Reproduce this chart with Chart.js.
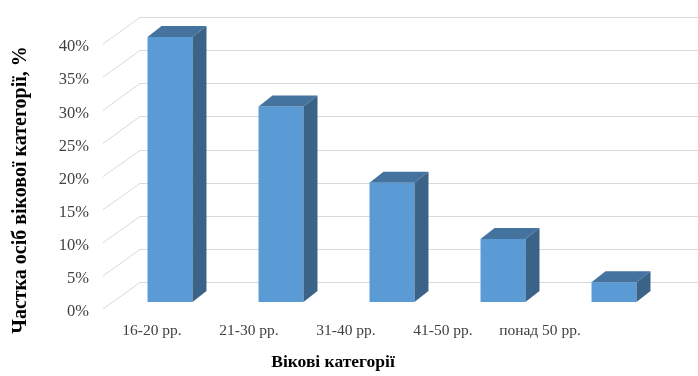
<!DOCTYPE html>
<html lang="uk">
<head>
    <meta charset="UTF-8">
    <title>Вікові категорії</title>
    <script src="https://cdn.jsdelivr.net/npm/chart.js"></script>
    <style>
        body { margin: 0; background: #fff; }
        canvas { display: block; }
    </style>
</head>
<body>
    <canvas id="ageChart" width="698" height="376"></canvas>

    <script>
        // Chart data
        const categories = ['16-20 рр.', '21-30 рр.', '31-40 рр.', '41-50 рр.', 'понад 50 рр.'];
        const shares = [40, 29.5, 18, 9.5, 3];
        const yTicks = [0, 5, 10, 15, 20, 25, 30, 35, 40];
        const xTitle = 'Вікові категорії';
        const yTitle = 'Частка осіб вікової категорії, %';

        const serif = "'Liberation Serif', 'Times New Roman', serif";

        // Fake 3D: back wall grid, floor diagonals, bar top and side faces
        const depth3d = {
            id: 'depth3d',
            beforeDatasetsDraw(chart, args, opts) {
                const {ctx, chartArea, scales: {y}} = chart;
                ctx.save();
                ctx.strokeStyle = opts.gridColor;
                ctx.lineWidth = 1;
                y.ticks.forEach(t => {
                    const py = y.getPixelForValue(t.value);
                    const by = Math.round(py + opts.back.y) + 0.5;
                    ctx.beginPath();
                    ctx.moveTo(chart.width, by);
                    ctx.lineTo(chartArea.left + opts.back.x, by);
                    ctx.lineTo(chartArea.left + opts.front.x, py + opts.front.y);
                    ctx.stroke();
                });
                ctx.restore();
            },
            afterDatasetsDraw(chart, args, opts) {
                const {ctx} = chart;
                const dx = opts.bar.x, dy = opts.bar.y;
                ctx.save();
                chart.getDatasetMeta(0).data.forEach(bar => {
                    const l = bar.x - bar.width / 2, r = bar.x + bar.width / 2;
                    const top = bar.y, base = bar.base;
                    // top face
                    ctx.fillStyle = opts.topColor;
                    ctx.beginPath();
                    ctx.moveTo(l, top);
                    ctx.lineTo(l + dx, top + dy);
                    ctx.lineTo(r + dx, top + dy);
                    ctx.lineTo(r, top);
                    ctx.closePath();
                    ctx.fill();
                    // side face
                    ctx.fillStyle = opts.sideColor;
                    ctx.beginPath();
                    ctx.moveTo(r, top);
                    ctx.lineTo(r + dx, top + dy);
                    ctx.lineTo(r + dx, base + dy);
                    ctx.lineTo(r, base);
                    ctx.closePath();
                    ctx.fill();
                });
                ctx.restore();
            },
            afterDraw(chart, args, opts) {
                const {ctx} = chart;
                ctx.save();
                ctx.fillStyle = opts.titleColor;
                ctx.textAlign = 'center';
                ctx.textBaseline = 'middle';
                ctx.font = opts.xTitleFont;
                ctx.fillText(xTitle, opts.xTitlePos.x, opts.xTitlePos.y);
                ctx.font = opts.yTitleFont;
                ctx.translate(opts.yTitlePos.x, opts.yTitlePos.y);
                ctx.rotate(-Math.PI / 2);
                ctx.fillText(yTitle, 0, 0);
                ctx.restore();
            }
        };

        const ctx = document.getElementById('ageChart').getContext('2d');
        new Chart(ctx, {
            type: 'bar',
            data: {
                labels: categories,
                datasets: [{
                    data: shares,
                    backgroundColor: '#5b9bd5',
                    borderWidth: 0,
                    categoryPercentage: 1,
                    barPercentage: 0.405
                }]
            },
            options: {
                responsive: false,
                animation: false,
                layout: { padding: { top: 37, right: 28.5, bottom: 0, left: 0 } },
                scales: {
                    x: { display: false },
                    // front-plane category labels
                    xl: {
                        type: 'linear',
                        position: 'bottom',
                        offset: false,
                        bounds: 'data',
                        afterDataLimits: axis => { axis.min = -0.3866; axis.max = 5.335; },
                        afterBuildTicks: axis => { axis.ticks = categories.map((c, i) => ({ value: i })); },
                        afterFit: axis => { axis.height = 74; },
                        grid: { display: false, drawTicks: false },
                        border: { display: false },
                        ticks: {
                            autoSkip: false,
                            maxRotation: 0,
                            padding: 20,
                            color: '#404040',
                            font: { family: serif, size: 15.5 },
                            callback: v => categories[v]
                        }
                    },
                    y: {
                        min: 0,
                        max: 40,
                        afterBuildTicks: axis => { axis.ticks = yTicks.map(v => ({ value: v })); },
                        afterFit: axis => { axis.width = 114.5; },
                        grid: { display: false, drawTicks: false },
                        border: { display: false },
                        ticks: {
                            padding: 25.5,
                            labelOffset: 10,
                            color: '#404040',
                            font: { family: serif, size: 16.5 },
                            callback: v => v + '%'
                        }
                    }
                },
                plugins: {
                    legend: { display: false },
                    tooltip: { enabled: false },
                    depth3d: {
                        gridColor: '#d9d9d9',
                        back: { x: 25.5, y: -20 },
                        front: { x: -11.5, y: 7 },
                        bar: { x: 14, y: -11 },
                        topColor: '#44739f',
                        sideColor: '#3b6287',
                        titleColor: '#000',
                        xTitleFont: "bold 17.5px " + serif,
                        yTitleFont: "bold 20px " + serif,
                        xTitlePos: { x: 333, y: 362 },
                        yTitlePos: { x: 21, y: 190 }
                    }
                }
            },
            plugins: [depth3d]
        });
    </script>
</body>
</html>
